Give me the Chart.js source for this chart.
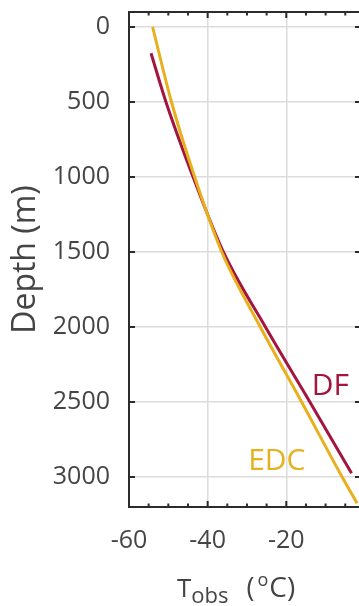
<!DOCTYPE html>
<html>
<head>
<meta charset="utf-8">
<script src="https://cdn.jsdelivr.net/npm/chart.js@4"></script>
<style>
  html, body { margin: 0; padding: 0; background: #fff; overflow: hidden; }
  body { width: 359px; height: 606px; }
  #wrap { position: absolute; left: 0; top: 0; width: 362px; height: 606px; }
</style>
</head>
<body>
<div id="wrap"><canvas id="chart"></canvas></div>
<script>
const edcDepth = [0, 500, 1000, 1500, 2000, 2500, 3000, 3175];
const edcTemp  = [-54.0, -49.2, -43.3, -36.4, -26.6, -16.1, -5.8, -2.0];
const dfDepth  = [175, 500, 1000, 1500, 2000, 2500, 2975];
const dfTemp   = [-54.4, -50.6, -43.7, -36.0, -25.3, -14.0, -3.4];

const xTicks = [-60, -40, -20];
const xMinorTicks = [-55, -50, -45, -35, -30, -25, -15, -10, -5];
const yTicks = [0, 500, 1000, 1500, 2000, 2500, 3000];

const EDC_COLOR = '#e8b01c';
const DF_COLOR = '#a3143f';
const TEXT_COLOR = '#454545';
const FONT = '"Open Sans", "Noto Sans", sans-serif';

const toPoints = (t, d) => t.map((v, i) => ({ x: v, y: d[i] }));

// frame, inward ticks, axis titles and curve labels
const decorPlugin = {
    id: 'decor',
    afterDraw(chart) {
        const { ctx, chartArea: a, scales: { x, y } } = chart;
        ctx.save();
        ctx.strokeStyle = '#2b2b2b';
        ctx.lineWidth = 2;
        ctx.beginPath();
        xTicks.forEach(v => {
            const px = x.getPixelForValue(v);
            ctx.moveTo(px, a.top); ctx.lineTo(px, a.top + 6);
            ctx.moveTo(px, a.bottom); ctx.lineTo(px, a.bottom - 6);
        });
        xMinorTicks.forEach(v => {
            const px = x.getPixelForValue(v);
            ctx.moveTo(px, a.top); ctx.lineTo(px, a.top + 3.5);
            ctx.moveTo(px, a.bottom); ctx.lineTo(px, a.bottom - 3.5);
        });
        yTicks.forEach(v => {
            const py = y.getPixelForValue(v);
            ctx.moveTo(a.left, py); ctx.lineTo(a.left + 6, py);
            ctx.moveTo(a.right, py); ctx.lineTo(a.right - 6, py);
        });
        ctx.stroke();
        ctx.strokeRect(a.left, a.top, a.right - a.left, a.bottom - a.top);

        // y title
        ctx.fillStyle = TEXT_COLOR;
        ctx.save();
        ctx.translate(35, (a.top + a.bottom) / 2);
        ctx.rotate(-Math.PI / 2);
        ctx.font = '32px ' + FONT;
        ctx.textAlign = 'center';
        ctx.textBaseline = 'alphabetic';
        ctx.fillText('Depth (m)', 0, 0);
        ctx.restore();

        // x title: T_obs (°C)
        ctx.textAlign = 'left';
        ctx.textBaseline = 'alphabetic';
        let cx = a.left + 48;
        const base = 597;
        const parts = [
            ['T', 26, 0, 0], ['obs', 22, 6, 18], ['(', 27, 0, 3], ['o', 18, -11, 1], ['C)', 28, 0, 0]
        ];
        parts.forEach(([txt, size, dy, gap]) => {
            ctx.font = size + 'px ' + FONT;
            ctx.fillText(txt, cx, base + dy);
            cx += ctx.measureText(txt).width + gap;
        });

        // curve labels
        ctx.font = '30px ' + FONT;
        ctx.fillStyle = DF_COLOR;
        ctx.fillText('DF', x.getPixelForValue(-13.5), y.getPixelForValue(2453));
        ctx.fillStyle = EDC_COLOR;
        ctx.fillText('EDC', x.getPixelForValue(-29.7), y.getPixelForValue(2953));
        ctx.restore();
    }
};

new Chart(document.getElementById('chart'), {
    type: 'line',
    data: {
        datasets: [
            {
                label: 'EDC',
                data: toPoints(edcTemp, edcDepth),
                borderColor: EDC_COLOR,
                borderWidth: 3,
                pointRadius: 0,
                cubicInterpolationMode: 'monotone',
                fill: false
            },
            {
                label: 'DF',
                data: toPoints(dfTemp, dfDepth),
                borderColor: DF_COLOR,
                borderWidth: 3,
                pointRadius: 0,
                cubicInterpolationMode: 'monotone',
                fill: false
            }
        ]
    },
    options: {
        responsive: true,
        maintainAspectRatio: false,
        animation: false,
        layout: { padding: { top: 12, right: 1, left: 0, bottom: 0 } },
        plugins: { legend: { display: false }, tooltip: { enabled: false } },
        scales: {
            x: {
                type: 'linear',
                min: -60,
                max: -1,
                afterBuildTicks: s => { s.ticks = xTicks.map(v => ({ value: v })); },
                afterFit: s => { s.height = 99; s.paddingLeft = 0; s.paddingRight = 0; },
                border: { display: false },
                grid: { color: '#dcdcdc', lineWidth: 1.5, drawTicks: false },
                ticks: { color: TEXT_COLOR, font: { size: 25, family: FONT }, padding: 19, maxRotation: 0,
                         callback: v => String(v) }
            },
            y: {
                type: 'linear',
                reverse: true,
                min: -100,
                max: 3200,
                afterBuildTicks: s => { s.ticks = yTicks.map(v => ({ value: v })); },
                afterFit: s => { s.width = 129; s.paddingTop = 0; s.paddingBottom = 0; },
                border: { display: false },
                grid: { color: '#dcdcdc', lineWidth: 1.5, drawTicks: false },
                ticks: { color: TEXT_COLOR, font: { size: 25, family: FONT }, padding: 19,
                         callback: v => String(v) }
            }
        }
    },
    plugins: [decorPlugin]
});
</script>
</body>
</html>
